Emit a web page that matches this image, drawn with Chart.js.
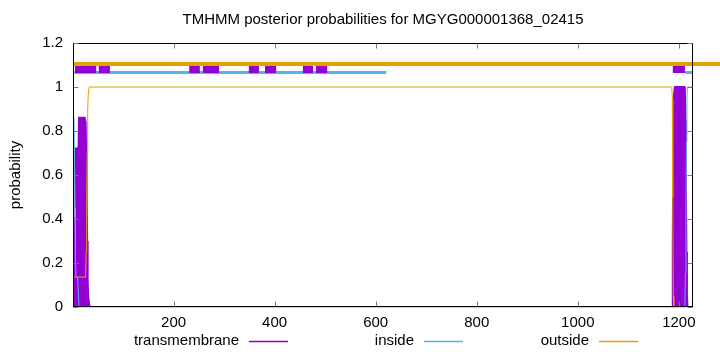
<!DOCTYPE html>
<html>
<head>
<meta charset="utf-8">
<script src="https://cdn.jsdelivr.net/npm/chart.js@4"></script>
<style>
  html, body { margin: 0; padding: 0; background: #fff; }
  canvas { display: block; }
</style>
</head>
<body>
<canvas id="plot" width="720" height="352"></canvas>
<script>
const xTicks = [200, 400, 600, 800, 1000, 1200];
const yTicks = [0, 0.2, 0.4, 0.6, 0.8, 1, 1.2];
const seqLength = 1228;

// posterior probabilities, residue positions and values
const tmPos = [1, 4, 5, 6, 7, 12, 13, 24, 26, 27, 28, 29, 30, 31, 33, 35,
    1187, 1188, 1189, 1190, 1192, 1211, 1212, 1213, 1214, 1215, 1216, 1217, 1228];
const tmProb = [0, 0, 0.4, 0.66, 0.72, 0.72, 0.86, 0.86, 0.84, 0.7, 0.5, 0.3, 0.12, 0.05, 0.01, 0,
    0, 0.3, 0.7, 0.95, 1, 1, 0.97, 0.85, 0.55, 0.25, 0.06, 0, 0];

const insidePos = [1, 3, 5, 6, 7, 10, 13, 1211, 1212, 1213, 1214, 1215, 1216, 1217, 1228];
const insideProb = [0.865, 0.86, 0.45, 0.2, 0.14, 0.135, 0, 0, 0.03, 0.15, 0.45, 0.75, 0.94, 1, 1];

const outsidePos = [1, 26, 27, 28, 29, 30, 31, 33, 1186, 1187, 1188, 1189, 1190, 1228];
const outsideProb = [0.136, 0.136, 0.25, 0.45, 0.7, 0.88, 0.96, 1, 1, 0.95, 0.5, 0.05, 0, 0];

// predicted topology bars drawn above the curves
const tmStart = [5, 52, 231, 258, 349, 381, 456, 482, 1188];
const tmEnd = [47, 74, 252, 290, 369, 403, 476, 504, 1212];
const insideStart = [1, 1212];
const insideEnd = [621, 1228];
const outsideStart = [1];
const outsideEnd = [1282];

const PURPLE = '#9400d3';
const BLUE = '#56b4e9';
const ORANGE = '#e69f00';
const FONT = '"Liberation Sans", Arial, sans-serif';

function points(xs, ys) {
    return xs.map((x, i) => ({ x: x, y: ys[i] }));
}

function segments(starts, ends, level) {
    const out = [];
    starts.forEach((s, i) => {
        out.push({ x: s, y: level }, { x: ends[i], y: level }, { x: ends[i], y: null });
    });
    return out;
}

// gnuplot style frame, inward ticks, title and legend
const framePlugin = {
    id: 'frame',
    afterDraw(chart) {
        const ctx = chart.ctx;
        const a = chart.chartArea;
        const xs = chart.scales.x, ys = chart.scales.y;
        const L = Math.round(a.left) + 0.5, R = Math.round(a.right) - 0.5;
        const T = Math.round(a.top) + 0.5, B = Math.round(a.bottom) - 0.5;
        ctx.save();
        ctx.strokeStyle = '#000';
        ctx.lineWidth = 1;
        ctx.strokeRect(L, T, R - L, B - T);

        ctx.strokeStyle = '#777';
        ctx.beginPath();
        xTicks.forEach(v => {
            const px = Math.round(xs.getPixelForValue(v)) + 0.5;
            ctx.moveTo(px, B); ctx.lineTo(px, B - 5);
            ctx.moveTo(px, T); ctx.lineTo(px, T + 5);
        });
        yTicks.forEach(v => {
            const py = Math.round(ys.getPixelForValue(v)) + 0.5;
            ctx.moveTo(L, py); ctx.lineTo(L + 5, py);
            ctx.moveTo(R, py); ctx.lineTo(R - 5, py);
        });
        ctx.stroke();

        ctx.fillStyle = '#000';
        ctx.font = '15px ' + FONT;
        ctx.textAlign = 'center';
        ctx.textBaseline = 'middle';
        ctx.fillText('TMHMM posterior probabilities for MGYG000001368_02415', (a.left + a.right) / 2, 20);

        ctx.save();
        ctx.translate(16, (a.top + a.bottom) / 2);
        ctx.rotate(-Math.PI / 2);
        ctx.fillText('probability', 0, 0);
        ctx.restore();

        const legend = [['transmembrane', PURPLE, 239], ['inside', BLUE, 414], ['outside', ORANGE, 589]];
        ctx.textAlign = 'right';
        ctx.lineWidth = 1.5;
        legend.forEach(([label, color, x]) => {
            ctx.fillStyle = '#000';
            ctx.fillText(label, x, 341);
            ctx.strokeStyle = color;
            ctx.beginPath();
            ctx.moveTo(x + 10, 341.5);
            ctx.lineTo(x + 49, 341.5);
            ctx.stroke();
        });
        ctx.restore();
    }
};

const lineStyle = { pointRadius: 0, tension: 0, fill: false };

new Chart(document.getElementById('plot'), {
    type: 'line',
    data: {
        datasets: [
            { ...lineStyle, label: 'outside bar', data: segments(outsideStart, outsideEnd, 1.105),
              borderColor: ORANGE, borderWidth: 4, borderCapStyle: 'butt', clip: false },
            { ...lineStyle, label: 'transmembrane bar', data: segments(tmStart, tmEnd, 1.086),
              borderColor: PURPLE, borderWidth: 10, borderCapStyle: 'butt' },
            { ...lineStyle, label: 'inside bar', data: segments(insideStart, insideEnd, 1.066),
              borderColor: BLUE, borderWidth: 3, borderCapStyle: 'butt' },
            { ...lineStyle, label: 'outside', data: points(outsidePos, outsideProb),
              borderColor: ORANGE, borderWidth: 1 },
            { ...lineStyle, label: 'inside', data: points(insidePos, insideProb),
              borderColor: BLUE, borderWidth: 1, clip: 2 },
            { ...lineStyle, label: 'transmembrane', data: points(tmPos, tmProb),
              borderColor: PURPLE, backgroundColor: PURPLE, borderWidth: 2, fill: 'origin' }
        ]
    },
    options: {
        responsive: false,
        animation: false,
        spanGaps: false,
        layout: { padding: { top: 43, right: 27, left: 0, bottom: 0 } },
        plugins: { legend: { display: false }, title: { display: false }, tooltip: { enabled: false } },
        scales: {
            x: {
                type: 'linear',
                min: 1,
                max: seqLength,
                grid: { display: false, drawTicks: false },
                border: { display: false },
                ticks: { color: '#000', font: { family: FONT, size: 15 }, padding: 7, maxRotation: 0,
                         callback: v => String(v) },
                afterBuildTicks: s => { s.ticks = xTicks.map(v => ({ value: v })); },
                afterFit: s => { s.height = 45; }
            },
            y: {
                min: 0,
                max: 1.2,
                grid: { display: false, drawTicks: false },
                border: { display: false },
                ticks: { color: '#000', font: { family: FONT, size: 15 }, padding: 10,
                         callback: v => String(v) },
                afterBuildTicks: s => { s.ticks = yTicks.map(v => ({ value: v })); },
                afterFit: s => { s.width = 73; }
            }
        }
    },
    plugins: [framePlugin]
});
</script>
</body>
</html>
